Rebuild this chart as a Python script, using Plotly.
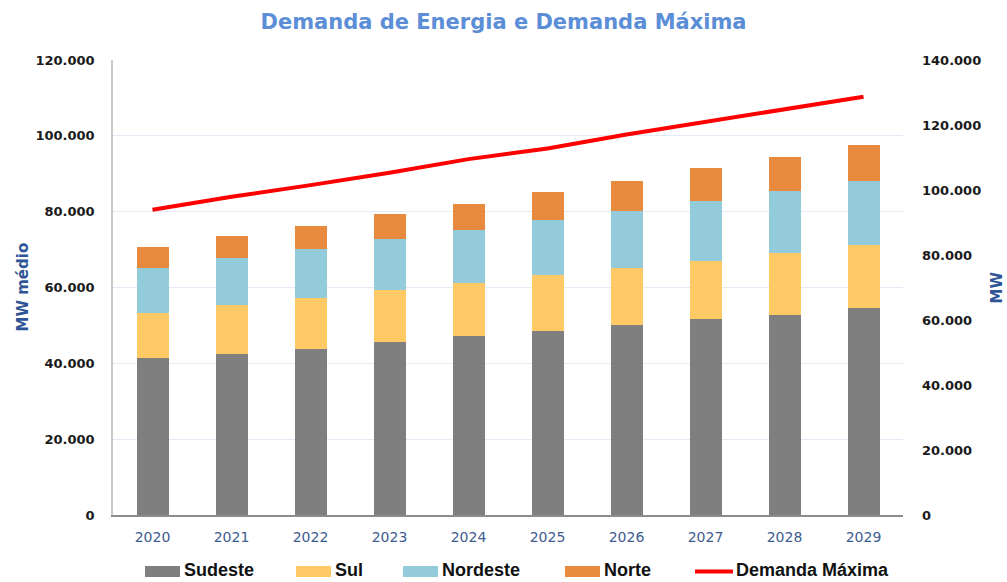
import plotly.graph_objects as go

years = ["2020", "2021", "2022", "2023", "2024", "2025", "2026", "2027", "2028", "2029"]
sudeste = [41300, 42500, 43900, 45600, 47200, 48600, 50100, 51600, 52700, 54500]
sul = [12100, 12800, 13300, 13700, 13900, 14700, 15000, 15400, 16400, 16700]
nordeste = [11700, 12400, 13000, 13400, 14100, 14400, 15100, 15700, 16300, 17000]
norte = [5700, 5800, 6100, 6600, 6900, 7400, 8000, 8700, 8900, 9300]
demanda_maxima = [93900, 97900, 101500, 105300, 109500, 112800, 117100, 120900, 124600, 128700]

bar_series = [("Sudeste", sudeste, "#7F7F7F"),
              ("Sul", sul, "#FFCA66"),
              ("Nordeste", nordeste, "#94CBDB"),
              ("Norte", norte, "#E88A3D")]
line_name, line_color = "Demanda Máxima", "#FF0000"

fig = go.Figure()
for name, vals, col in bar_series:
    fig.add_trace(go.Bar(x=years, y=vals, name=name, marker=dict(color=col, line=dict(width=0)),
                         yaxis="y", showlegend=False))

fig.add_trace(go.Scatter(x=years, y=demanda_maxima, name=line_name, mode="lines",
                         line=dict(color=line_color, width=4), yaxis="y2", showlegend=False))

# plot area in pixels: x 113..903, y 60..515
L, R, T, B = 113, 903, 60, 515
W, H = R - L, B - T
def px(x):
    return (x - L) / W
def py(y):
    return (B - y) / H

tick_font = dict(family="DejaVu Sans", size=13, color="#1A1A1A", weight="bold")
legend_font = dict(family="Liberation Sans", size=18, color="#111111", weight="bold")

# custom legend (wide swatches like the original)
shapes, annotations = [], []
swatch_starts = [145, 296, 403, 565]
for (name, _, col), x0 in zip(bar_series, swatch_starts):
    shapes.append(dict(type="rect", xref="paper", yref="paper", x0=px(x0), x1=px(x0 + 35),
                       y0=py(577), y1=py(566), fillcolor=col, line=dict(width=0)))
    annotations.append(dict(text=name, xref="paper", yref="paper", x=px(x0 + 37), y=py(581.5),
                            xanchor="left", yanchor="bottom", showarrow=False, font=legend_font))
shapes.append(dict(type="line", xref="paper", yref="paper", x0=px(695), x1=px(733),
                   y0=py(571.5), y1=py(571.5), line=dict(color=line_color, width=4)))
annotations.append(dict(text=line_name, xref="paper", yref="paper", x=px(734), y=py(581.5),
                        xanchor="left", yanchor="bottom", showarrow=False, font=legend_font))

annotations += [
    dict(text="MW médio", xref="paper", yref="paper", x=px(22), y=0.5,
         textangle=-90, showarrow=False, xanchor="center", yanchor="middle",
         font=dict(family="DejaVu Sans", size=15, color="#2F5496", weight="bold")),
    dict(text="MW", xref="paper", yref="paper", x=px(996), y=0.5,
         textangle=-90, showarrow=False, xanchor="center", yanchor="middle",
         font=dict(family="DejaVu Sans", size=15, color="#2F5496", weight="bold")),
]

fig.update_layout(
    width=1007, height=582,
    margin=dict(l=L, r=1007 - R, t=T, b=582 - B, autoexpand=False),
    paper_bgcolor="white", plot_bgcolor="white",
    separators=",.",
    barmode="stack", bargap=0.595,
    showlegend=False,
    title=dict(text="Demanda de Energia e Demanda Máxima", x=0.5, xanchor="center",
               y=1 - 22 / 582, yanchor="middle",
               font=dict(family="DejaVu Sans", size=21, color="#5B8ED6", weight="bold")),
    xaxis=dict(showline=True, linecolor="#8C8C8C", linewidth=2, ticks="", automargin=False,
               tickfont=dict(family="DejaVu Sans", size=14, color="#3E5C8E"),
               ticklabelstandoff=8),
    yaxis=dict(range=[0, 120000], dtick=20000, tickformat=",d", showgrid=True, automargin=False,
               gridcolor="#E3EBF6", gridwidth=1, showline=True, linecolor="#C8C8C8",
               linewidth=1.5, zeroline=False, tickfont=tick_font, ticklabelstandoff=14),
    yaxis2=dict(range=[0, 140000], dtick=20000, tickformat=",d", overlaying="y", side="right",
                showgrid=False, showline=False, zeroline=False, tickfont=tick_font,
                automargin=False, ticklabelstandoff=18),
    shapes=shapes,
    annotations=annotations,
)

fig.write_html("out.html", config={"displayModeBar": False},
               post_script="document.body.style.margin='0px';document.body.style.overflow='hidden';")
